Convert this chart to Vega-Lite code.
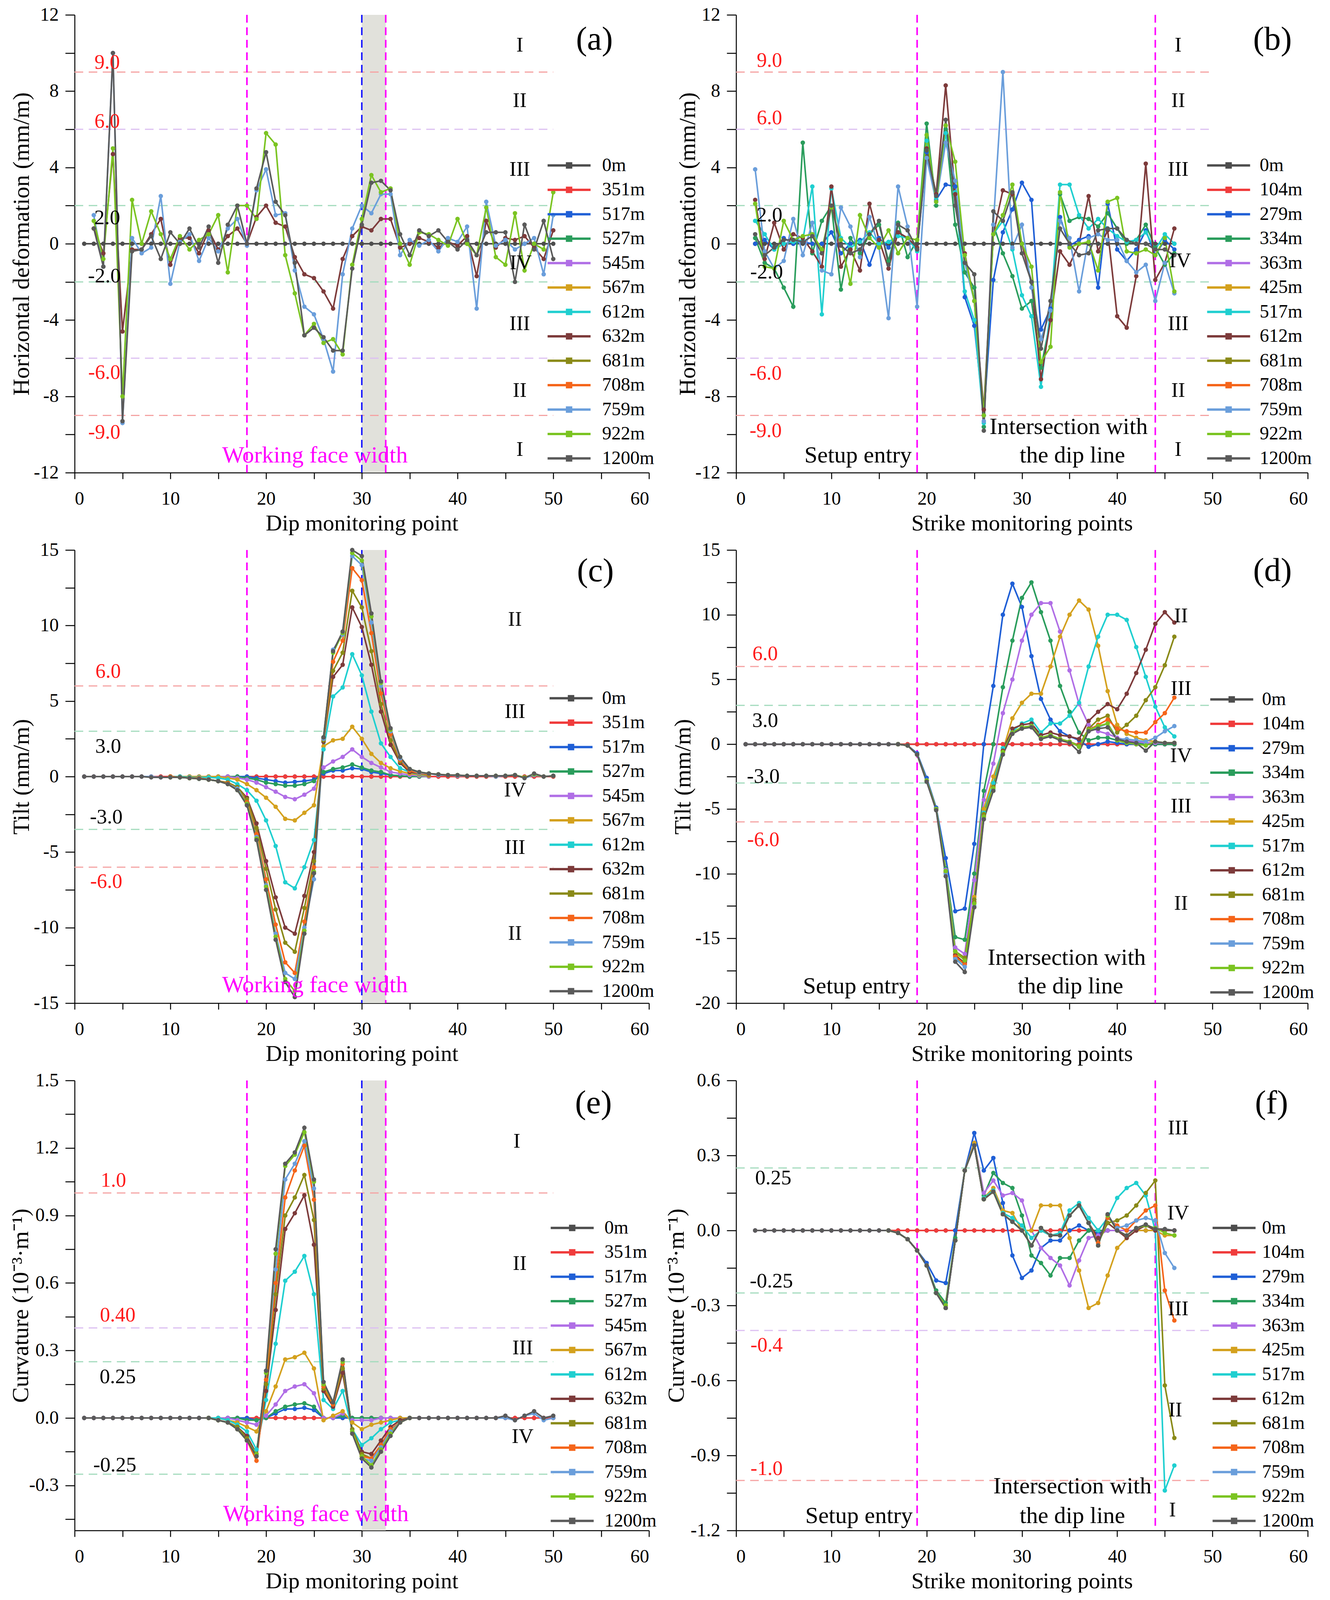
{
"$schema": "https://vega.github.io/schema/vega-lite/v6.json",
"background": "#ffffff",
"padding": {"left": 23, "top": 14, "right": 10, "bottom": 0},
"autosize": {"type": "pad"},
"config": {
 "font": "Liberation Serif",
 "view": {"stroke": null},
 "axis": {"grid": false, "domainColor": "#000000", "domainWidth": 2.5, "tickColor": "#000000", "tickWidth": 2.5, "labelFont": "Liberation Serif", "labelFontSize": 48, "labelColor": "#000000", "titleFont": "Liberation Serif", "titleFontSize": 60, "titleFontWeight": "normal", "titleColor": "#000000"},
 "axisX": {"tickSize": 16, "labelPadding": 27, "titlePadding": 10, "titleFontSize": 58},
 "axisY": {"tickSize": 24, "labelPadding": 17},
 "legend": {"title": null, "orient": "none", "labelFont": "Liberation Serif", "labelFontSize": 48, "labelColor": "#000000", "symbolType": "M-2,-0.11H2V0.11H-2ZM-0.3,-0.3H0.3V0.3H-0.3Z", "symbolSize": 3025, "symbolStrokeWidth": 0, "rowPadding": 10.5, "padding": 0, "labelLimit": 400},
 "point": {"shape": "circle", "filled": true, "size": 130, "opacity": 1},
 "text": {"font": "Liberation Serif"}
},
"datasets": {
 "A": [
  {"x":1,"0m":0},
  {"x":2,"0m":0,"632m":0.8,"759m":1.5,"922m":1.2,"1200m":0.8},
  {"x":3,"0m":0,"632m":-0.5,"759m":-1.2,"922m":-0.8,"1200m":-1.2},
  {"x":4,"0m":0,"632m":4.7,"759m":10,"922m":5,"1200m":10},
  {"x":5,"0m":0,"632m":-4.6,"759m":-9.4,"922m":-8,"1200m":-9.3},
  {"x":6,"0m":0,"632m":-0.3,"759m":0.3,"922m":2.3,"1200m":-0.4},
  {"x":7,"0m":0,"632m":-0.3,"759m":-0.5,"922m":0,"1200m":-0.3},
  {"x":8,"0m":0,"632m":0.5,"759m":-0.2,"922m":1.7,"1200m":0.4},
  {"x":9,"0m":0,"632m":1.3,"759m":2.5,"922m":0.5,"1200m":-0.8},
  {"x":10,"0m":0,"632m":-1.1,"759m":-2.1,"922m":-0.8,"1200m":0.6},
  {"x":11,"0m":0,"632m":0.3,"759m":0.1,"922m":0.4,"1200m":0},
  {"x":12,"0m":0,"632m":0.3,"759m":0.5,"922m":-0.3,"1200m":0.8},
  {"x":13,"0m":0,"632m":-0.5,"759m":-0.9,"922m":0.2,"1200m":-0.2},
  {"x":14,"0m":0,"632m":0.7,"759m":0.3,"922m":0.5,"1200m":0.9},
  {"x":15,"0m":0,"632m":-0.3,"759m":-0.4,"922m":1.5,"1200m":-1},
  {"x":16,"0m":0,"632m":0.4,"759m":0.8,"922m":-1.5,"1200m":1},
  {"x":17,"0m":0,"632m":0.8,"759m":1.3,"922m":2,"1200m":2},
  {"x":18,"0m":0,"632m":0,"759m":-0.1,"922m":2,"1200m":0},
  {"x":19,"0m":0,"632m":1.4,"759m":2.8,"922m":1.3,"1200m":2.9},
  {"x":20,"0m":0,"632m":2,"759m":3.9,"922m":5.8,"1200m":4.8},
  {"x":21,"0m":0,"632m":1.1,"759m":1.5,"922m":5.2,"1200m":2.2},
  {"x":22,"0m":0,"632m":0.9,"759m":1.6,"922m":-0.6,"1200m":1.5},
  {"x":23,"0m":0,"632m":-0.7,"759m":-1.4,"922m":-2.6,"1200m":-1},
  {"x":24,"0m":0,"632m":-1.6,"759m":-3.3,"922m":-4.8,"1200m":-4.8},
  {"x":25,"0m":0,"632m":-1.8,"759m":-3.7,"922m":-4.2,"1200m":-4.4},
  {"x":26,"0m":0,"632m":-2.5,"759m":-5,"922m":-5.2,"1200m":-4.9},
  {"x":27,"0m":0,"632m":-3.4,"759m":-6.7,"922m":-5,"1200m":-5.6},
  {"x":28,"0m":0,"632m":-0.8,"759m":-1.6,"922m":-5.8,"1200m":-5.6},
  {"x":29,"0m":0,"632m":0.4,"759m":0.8,"922m":-1.1,"1200m":-1.3},
  {"x":30,"0m":0,"632m":0.9,"759m":2,"922m":1.3,"1200m":1},
  {"x":31,"0m":0,"632m":0.7,"759m":1.6,"922m":3.6,"1200m":3.2},
  {"x":32,"0m":0,"632m":1.3,"759m":2.6,"922m":2.7,"1200m":3.3},
  {"x":33,"0m":0,"632m":1.3,"759m":2.6,"922m":2.9,"1200m":2.8},
  {"x":34,"0m":0,"632m":-0.2,"759m":-0.6,"922m":0,"1200m":0.5},
  {"x":35,"0m":0,"632m":0,"759m":0.2,"922m":-1.1,"1200m":-0.6},
  {"x":36,"0m":0,"632m":0.3,"759m":-0.1,"922m":0.6,"1200m":0.7},
  {"x":37,"0m":0,"632m":0.1,"759m":0.2,"922m":0.5,"1200m":0.4},
  {"x":38,"0m":0,"632m":-0.2,"759m":-0.4,"922m":0.2,"1200m":0.7},
  {"x":39,"0m":0,"632m":0.1,"759m":0.3,"922m":-0.1,"1200m":0.1},
  {"x":40,"0m":0,"632m":-0.1,"759m":0.1,"922m":1.3,"1200m":-0.3},
  {"x":41,"0m":0,"632m":0.4,"759m":0.9,"922m":0,"1200m":0.2},
  {"x":42,"0m":0,"632m":-1.7,"759m":-3.4,"922m":-0.6,"1200m":-0.6},
  {"x":43,"0m":0,"632m":1.2,"759m":2.2,"922m":1.9,"1200m":0.6},
  {"x":44,"0m":0,"632m":-0.2,"759m":-0.1,"922m":-0.7,"1200m":0.6},
  {"x":45,"0m":0,"632m":0.3,"759m":0.2,"922m":-1.1,"1200m":0.6},
  {"x":46,"0m":0,"632m":0.2,"759m":-0.3,"922m":1.6,"1200m":-2},
  {"x":47,"0m":0,"632m":0.4,"759m":0,"922m":-1.4,"1200m":1},
  {"x":48,"0m":0,"632m":-0.2,"759m":0.3,"922m":0,"1200m":-0.3},
  {"x":49,"0m":0,"632m":-0.8,"759m":-1.6,"922m":-0.3,"1200m":1.2},
  {"x":50,"0m":0,"632m":0.7,"759m":1.5,"922m":2.7,"1200m":-0.8}
 ],
 "B": [
  {"x":2,"0m":0,"279m":0,"334m":0.3,"517m":1.2,"612m":2.3,"759m":3.9,"922m":2.1,"1200m":0.5},
  {"x":3,"0m":0,"279m":0.2,"334m":-1,"517m":0.5,"612m":-0.8,"759m":-0.4,"922m":-1.2,"1200m":-0.6},
  {"x":4,"0m":0,"279m":-0.3,"334m":-1.3,"517m":-0.3,"612m":1.1,"759m":-1.3,"922m":-1.3,"1200m":-0.2},
  {"x":5,"0m":0,"279m":0.3,"334m":-2.3,"517m":0,"612m":-0.3,"759m":-0.9,"922m":1.2,"1200m":0.2},
  {"x":6,"0m":0,"279m":0,"334m":-3.3,"517m":0.1,"612m":0.5,"759m":1.3,"922m":0.2,"1200m":0.2},
  {"x":7,"0m":0,"279m":0.1,"334m":5.3,"517m":0.2,"612m":0.3,"759m":-0.6,"922m":0.4,"1200m":0.1},
  {"x":8,"0m":0,"279m":0,"334m":-0.5,"517m":3,"612m":-0.4,"759m":1.1,"922m":0.5,"1200m":0.4},
  {"x":9,"0m":0,"279m":0,"334m":1.2,"517m":-3.7,"612m":-1.2,"759m":-1.4,"922m":-0.3,"1200m":-0.5},
  {"x":10,"0m":0,"279m":0.6,"334m":2,"517m":2.9,"612m":3,"759m":-1.6,"922m":1.9,"1200m":2},
  {"x":11,"0m":0,"279m":-0.5,"334m":-2.4,"517m":0.3,"612m":-1.2,"759m":1.9,"922m":0.2,"1200m":-0.1},
  {"x":12,"0m":0,"279m":0,"334m":0.3,"517m":-0.2,"612m":-0.3,"759m":0.9,"922m":-2.1,"1200m":-0.5},
  {"x":13,"0m":0,"279m":0.2,"334m":-0.5,"517m":0.1,"612m":-1.4,"759m":-0.7,"922m":1.5,"1200m":-0.3},
  {"x":14,"0m":0,"279m":-1.1,"334m":0.5,"517m":0.6,"612m":2.1,"759m":1.4,"922m":0.3,"1200m":0.5},
  {"x":15,"0m":0,"279m":0.3,"334m":1,"517m":0,"612m":0.2,"759m":-0.2,"922m":-0.2,"1200m":1.2},
  {"x":16,"0m":0,"279m":-0.2,"334m":-0.9,"517m":0.1,"612m":-1.3,"759m":-3.9,"922m":0.7,"1200m":-1.1},
  {"x":17,"0m":0,"279m":0.6,"334m":1.1,"517m":0.4,"612m":0.6,"759m":3,"922m":-0.5,"1200m":1},
  {"x":18,"0m":0,"279m":0.3,"334m":-0.7,"517m":0.3,"612m":0.3,"759m":0.9,"922m":0.3,"1200m":0.7},
  {"x":19,"0m":0,"279m":-0.3,"334m":0.2,"517m":-0.4,"612m":-0.2,"759m":-3.3,"922m":0.2,"1200m":-0.3},
  {"x":20,"0m":0,"279m":4.8,"334m":6.3,"517m":5.4,"612m":5,"759m":4.5,"922m":5.7,"1200m":4.9},
  {"x":21,"0m":0,"279m":2.3,"334m":2,"517m":2.4,"612m":2.6,"759m":2.2,"922m":2.2,"1200m":2.5},
  {"x":22,"0m":0,"279m":3.1,"334m":6,"517m":5.8,"612m":8.3,"759m":5.3,"922m":6.2,"1200m":6.5},
  {"x":23,"0m":0,"279m":3,"334m":1,"517m":2.7,"612m":2.6,"759m":3.3,"922m":4.3,"1200m":2},
  {"x":24,"0m":0,"279m":-2.8,"334m":-1.5,"517m":-2.5,"612m":-0.5,"759m":-1,"922m":-0.6,"1200m":-1},
  {"x":25,"0m":0,"279m":-4.3,"334m":-2.3,"517m":-4,"612m":-3,"759m":-3,"922m":-3,"1200m":-1.6},
  {"x":26,"0m":0,"279m":-9,"334m":-9.6,"517m":-9.4,"612m":-8.7,"759m":-9.3,"922m":-9,"1200m":-9.8},
  {"x":27,"0m":0,"279m":-1.9,"334m":1,"517m":0.5,"612m":0.5,"759m":1,"922m":0.5,"1200m":1.7},
  {"x":28,"0m":0,"279m":0.6,"334m":-0.5,"517m":1.2,"612m":2.8,"759m":9,"922m":1.5,"1200m":1.2},
  {"x":29,"0m":0,"279m":1.8,"334m":-1.7,"517m":-0.3,"612m":2.6,"759m":-0.2,"922m":3.1,"1200m":2.7},
  {"x":30,"0m":0,"279m":3.2,"334m":-3.4,"517m":-2.7,"612m":0,"759m":1,"922m":0,"1200m":-0.5},
  {"x":31,"0m":0,"279m":2.3,"334m":-3,"517m":-3.8,"612m":-2,"759m":-2.3,"922m":-1.2,"1200m":-2},
  {"x":32,"0m":0,"279m":-4.5,"334m":-6.5,"517m":-7.5,"612m":-7.1,"759m":-5,"922m":-6.2,"1200m":-5.5},
  {"x":33,"0m":0,"279m":-3.4,"334m":-4,"517m":-3.5,"612m":-4,"759m":-3.5,"922m":-5.4,"1200m":-3},
  {"x":34,"0m":0,"279m":1.4,"334m":2.6,"517m":3.1,"612m":-0.4,"759m":1.2,"922m":2.7,"1200m":0.8},
  {"x":35,"0m":0,"279m":-0.1,"334m":1.2,"517m":3.1,"612m":-1.1,"759m":0.3,"922m":-0.2,"1200m":0},
  {"x":36,"0m":0,"279m":0.2,"334m":1.4,"517m":1.5,"612m":0,"759m":-2.5,"922m":0,"1200m":-0.6},
  {"x":37,"0m":0,"279m":0.4,"334m":1.3,"517m":0.8,"612m":2.5,"759m":0.3,"922m":0.1,"1200m":-0.5},
  {"x":38,"0m":0,"279m":-2.3,"334m":0.9,"517m":1.3,"612m":-0.4,"759m":0.5,"922m":-1.4,"1200m":0.7},
  {"x":39,"0m":0,"279m":2.1,"334m":1.6,"517m":0.8,"612m":0.7,"759m":0.2,"922m":2.2,"1200m":0.8},
  {"x":40,"0m":0,"279m":-0.3,"334m":0.8,"517m":0.4,"612m":-3.8,"759m":0.2,"922m":2.4,"1200m":0.8},
  {"x":41,"0m":0,"279m":-0.9,"334m":0,"517m":0.1,"612m":-4.4,"759m":-0.9,"922m":-0.4,"1200m":0.2},
  {"x":42,"0m":0,"279m":-0.3,"334m":0.2,"517m":0.2,"612m":-1.7,"759m":-1.5,"922m":-0.5,"1200m":0},
  {"x":43,"0m":0,"279m":0.7,"334m":1,"517m":0.6,"612m":4.2,"759m":-1.1,"922m":-0.3,"1200m":0},
  {"x":44,"0m":0,"279m":-0.6,"334m":-0.2,"517m":-0.3,"612m":-1.9,"759m":-3,"922m":-0.6,"1200m":-0.3},
  {"x":45,"0m":0,"279m":0.2,"334m":-1.1,"517m":0.5,"612m":-1,"759m":-1,"922m":0.3,"1200m":-0.3},
  {"x":46,"0m":0,"279m":-0.3,"334m":-0.5,"517m":0,"612m":0.8,"759m":-2.6,"922m":-2.5,"1200m":-0.6}
 ],
 "C": [
  {"x":1,"0m":0,"351m":0,"759m":0,"1200m":0},
  {"x":2,"0m":0,"351m":0,"759m":0,"1200m":0},
  {"x":3,"0m":0,"351m":0,"759m":0,"1200m":0},
  {"x":4,"0m":0,"351m":0,"759m":0,"1200m":0},
  {"x":5,"0m":0,"351m":0,"759m":0,"1200m":0},
  {"x":6,"0m":0,"351m":0,"759m":0,"1200m":0},
  {"x":7,"0m":0,"351m":0,"759m":0,"1200m":0},
  {"x":8,"0m":0,"351m":0,"759m":0,"1200m":-0.05},
  {"x":9,"0m":0,"351m":0,"759m":-0.05,"1200m":-0.05},
  {"x":10,"0m":0,"351m":0,"517m":0,"527m":0,"545m":0,"567m":0,"612m":0,"632m":0,"681m":0,"708m":0,"759m":-0.05,"922m":-0.05,"1200m":-0.05},
  {"x":11,"0m":0,"351m":0,"517m":0,"527m":0,"545m":0,"567m":0,"612m":0,"632m":-0.05,"681m":-0.05,"708m":-0.05,"759m":-0.05,"922m":-0.05,"1200m":-0.05},
  {"x":12,"0m":0,"351m":0,"517m":0,"527m":0,"545m":0,"567m":0,"612m":-0.05,"632m":-0.1,"681m":-0.1,"708m":-0.1,"759m":-0.1,"922m":-0.1,"1200m":-0.1},
  {"x":13,"0m":0,"351m":0,"517m":0,"527m":0,"545m":0,"567m":0,"612m":-0.05,"632m":-0.1,"681m":-0.1,"708m":-0.1,"759m":-0.15,"922m":-0.15,"1200m":-0.15},
  {"x":14,"0m":0,"351m":0,"517m":0,"527m":0,"545m":0,"567m":0,"612m":-0.05,"632m":-0.2,"681m":-0.2,"708m":-0.2,"759m":-0.2,"922m":-0.2,"1200m":-0.2},
  {"x":15,"0m":0,"351m":0,"517m":0,"527m":0,"545m":0,"567m":0,"612m":-0.1,"632m":-0.3,"681m":-0.3,"708m":-0.3,"759m":-0.3,"922m":-0.3,"1200m":-0.3},
  {"x":16,"0m":0,"351m":0,"517m":0,"527m":0,"545m":0,"567m":-0.1,"612m":-0.2,"632m":-0.4,"681m":-0.4,"708m":-0.45,"759m":-0.5,"922m":-0.5,"1200m":-0.5},
  {"x":17,"0m":0,"351m":0,"517m":0,"527m":0,"545m":-0.1,"567m":-0.2,"612m":-0.5,"632m":-0.7,"681m":-0.7,"708m":-0.8,"759m":-0.8,"922m":-0.9,"1200m":-0.9},
  {"x":18,"0m":0,"351m":0,"517m":0,"527m":-0.1,"545m":-0.2,"567m":-0.5,"612m":-0.9,"632m":-1.4,"681m":-1.5,"708m":-1.7,"759m":-1.8,"922m":-1.8,"1200m":-1.9},
  {"x":19,"0m":0,"351m":0,"517m":-0.1,"527m":-0.2,"545m":-0.4,"567m":-0.9,"612m":-1.6,"632m":-3.1,"681m":-3.4,"708m":-3.8,"759m":-4,"922m":-4.1,"1200m":-4.2},
  {"x":20,"0m":0,"351m":0,"517m":-0.2,"527m":-0.4,"545m":-0.7,"567m":-1.4,"612m":-2.9,"632m":-5.6,"681m":-6.1,"708m":-6.8,"759m":-7.2,"922m":-7.3,"1200m":-7.5},
  {"x":21,"0m":0,"351m":0,"517m":-0.3,"527m":-0.5,"545m":-1,"567m":-2,"612m":-4.6,"632m":-8,"681m":-8.8,"708m":-9.8,"759m":-10.4,"922m":-10.6,"1200m":-10.8},
  {"x":22,"0m":0,"351m":0,"517m":-0.4,"527m":-0.6,"545m":-1.35,"567m":-2.8,"612m":-7,"632m":-10,"681m":-11,"708m":-12.3,"759m":-13,"922m":-13.4,"1200m":-13.6},
  {"x":23,"0m":0,"351m":0,"517m":-0.35,"527m":-0.6,"545m":-1.5,"567m":-2.9,"612m":-7.4,"632m":-10.4,"681m":-11.6,"708m":-13,"759m":-13.4,"922m":-14.2,"1200m":-14.6},
  {"x":24,"0m":0,"351m":0,"517m":-0.3,"527m":-0.5,"545m":-1.2,"567m":-2.4,"612m":-6,"632m":-7.9,"681m":-8.7,"708m":-9.6,"759m":-10,"922m":-10.2,"1200m":-10.4},
  {"x":25,"0m":0,"351m":0,"517m":-0.2,"527m":-0.3,"545m":-0.8,"567m":-1.9,"612m":-4.2,"632m":-5,"681m":-5.6,"708m":-6,"759m":-6.8,"922m":-6.3,"1200m":-6.4},
  {"x":26,"0m":0,"351m":0,"517m":0.2,"527m":0.3,"545m":0.6,"567m":2,"612m":1.8,"632m":2.3,"681m":2.4,"708m":2.5,"759m":2.5,"922m":2.6,"1200m":2.6},
  {"x":27,"0m":0,"351m":0,"517m":0.4,"527m":0.5,"545m":1,"567m":2.4,"612m":5.3,"632m":6.6,"681m":7,"708m":7.6,"759m":8.4,"922m":8.2,"1200m":8.3},
  {"x":28,"0m":0,"351m":0,"517m":0.4,"527m":0.6,"545m":1.3,"567m":2.5,"612m":5.9,"632m":7.4,"681m":8.2,"708m":9,"759m":9.4,"922m":9.5,"1200m":9.6},
  {"x":29,"0m":0,"351m":0,"517m":0.55,"527m":0.8,"545m":1.8,"567m":3.3,"612m":8.1,"632m":11.2,"681m":12.3,"708m":13.8,"759m":14.6,"922m":14.8,"1200m":15},
  {"x":30,"0m":0,"351m":0,"517m":0.5,"527m":0.6,"545m":1.3,"567m":2.5,"612m":6.7,"632m":9.9,"681m":11.2,"708m":13,"759m":14,"922m":14.3,"1200m":14.6},
  {"x":31,"0m":0,"351m":0,"517m":0.3,"527m":0.4,"545m":0.9,"567m":1.5,"612m":4.3,"632m":7.4,"681m":8.3,"708m":9.5,"759m":10.2,"922m":10.6,"1200m":10.8},
  {"x":32,"0m":0,"351m":0,"517m":0.2,"527m":0.3,"545m":0.6,"567m":0.9,"612m":2.2,"632m":4.3,"681m":4.8,"708m":5.5,"759m":6,"922m":6.2,"1200m":6.3},
  {"x":33,"0m":0,"351m":0,"517m":0.1,"527m":0.1,"545m":0.3,"567m":0.55,"612m":1.3,"632m":2.1,"681m":2.4,"708m":2.8,"759m":3,"922m":3.1,"1200m":3.2},
  {"x":34,"0m":0,"351m":0,"517m":0.05,"527m":0.05,"545m":0.2,"567m":0.35,"612m":0.55,"632m":0.9,"681m":1,"708m":1.1,"759m":1.2,"922m":1.3,"1200m":1.3},
  {"x":35,"0m":0,"351m":0,"517m":0,"527m":0,"545m":0.1,"567m":0.2,"612m":0.3,"632m":0.3,"681m":0.4,"708m":0.4,"759m":0.5,"922m":0.5,"1200m":0.5},
  {"x":36,"0m":0,"351m":0,"517m":0,"527m":0,"545m":0.05,"567m":0.1,"612m":0.15,"632m":0.2,"681m":0.2,"708m":0.2,"759m":0.25,"922m":0.3,"1200m":0.3},
  {"x":37,"0m":0,"351m":0,"517m":0,"527m":0,"545m":0,"567m":0.05,"612m":0.1,"632m":0.1,"681m":0.1,"708m":0.15,"759m":0.2,"922m":0.2,"1200m":0.2},
  {"x":38,"0m":0,"351m":0,"759m":0.1,"922m":0.15,"1200m":0.15},
  {"x":39,"0m":0,"351m":0,"759m":0.1,"922m":0.1,"1200m":0.1},
  {"x":40,"0m":0,"351m":0,"759m":0.05,"922m":0.1,"1200m":0.1},
  {"x":41,"0m":0,"351m":0,"759m":0.05,"922m":0.05,"1200m":0.05},
  {"x":42,"0m":0,"351m":0,"759m":0.05,"922m":0.05,"1200m":0.05},
  {"x":43,"0m":0,"351m":0,"759m":0.05,"922m":0.05,"1200m":0.05},
  {"x":44,"0m":0,"351m":0,"759m":0,"922m":0.05,"1200m":0.05},
  {"x":45,"0m":0,"351m":0,"759m":0.05,"922m":0.05,"1200m":0.05},
  {"x":46,"0m":0,"351m":0,"759m":0.1,"922m":0.1,"1200m":0.1},
  {"x":47,"0m":0,"351m":0,"759m":-0.1,"922m":-0.05,"1200m":-0.1},
  {"x":48,"0m":0,"351m":0,"759m":0.1,"922m":0.15,"1200m":0.2},
  {"x":49,"0m":0,"351m":0,"759m":0,"922m":0,"1200m":0},
  {"x":50,"0m":0,"351m":0,"759m":0.05,"922m":0.05,"1200m":0.05}
 ],
 "D": [
  {"x":1,"0m":0,"104m":0,"759m":0,"1200m":0},
  {"x":2,"0m":0,"104m":0,"759m":0,"1200m":0},
  {"x":3,"0m":0,"104m":0,"759m":0,"1200m":0},
  {"x":4,"0m":0,"104m":0,"759m":0,"1200m":0},
  {"x":5,"0m":0,"104m":0,"759m":0,"1200m":0},
  {"x":6,"0m":0,"104m":0,"759m":0,"1200m":0},
  {"x":7,"0m":0,"104m":0,"759m":0,"1200m":0},
  {"x":8,"0m":0,"104m":0,"759m":0,"1200m":0},
  {"x":9,"0m":0,"104m":0,"759m":0,"1200m":0},
  {"x":10,"0m":0,"104m":0,"759m":0,"1200m":0},
  {"x":11,"0m":0,"104m":0,"759m":0,"1200m":0},
  {"x":12,"0m":0,"104m":0,"759m":0,"1200m":0},
  {"x":13,"0m":0,"104m":0,"759m":0,"1200m":0},
  {"x":14,"0m":0,"104m":0,"759m":0,"1200m":0},
  {"x":15,"0m":0,"104m":0,"759m":0,"1200m":0},
  {"x":16,"0m":0,"104m":0,"759m":0,"1200m":0},
  {"x":17,"0m":0,"104m":0,"279m":0,"334m":0,"363m":0,"425m":0,"517m":0,"612m":0,"681m":0,"708m":0,"759m":0,"922m":0,"1200m":0},
  {"x":18,"0m":0,"104m":0,"279m":-0.1,"334m":-0.1,"363m":-0.1,"425m":-0.1,"517m":-0.1,"612m":-0.1,"681m":-0.1,"708m":-0.1,"759m":-0.1,"922m":-0.1,"1200m":-0.1},
  {"x":19,"0m":0,"104m":0,"279m":-0.7,"334m":-0.8,"363m":-0.8,"425m":-0.8,"517m":-0.8,"612m":-0.8,"681m":-0.8,"708m":-0.8,"759m":-0.8,"922m":-0.8,"1200m":-0.8},
  {"x":20,"0m":0,"104m":0,"279m":-2.6,"334m":-2.8,"363m":-2.8,"425m":-2.8,"517m":-2.8,"612m":-2.8,"681m":-2.8,"708m":-2.8,"759m":-2.8,"922m":-2.8,"1200m":-2.9},
  {"x":21,"0m":0,"104m":0,"279m":-4.9,"334m":-5,"363m":-5,"425m":-5,"517m":-5,"612m":-5,"681m":-5,"708m":-5,"759m":-5,"922m":-5,"1200m":-5.1},
  {"x":22,"0m":0,"104m":0,"279m":-8.8,"334m":-9.6,"363m":-9.7,"425m":-9.8,"517m":-9.8,"612m":-9.9,"681m":-9.8,"708m":-9.9,"759m":-10,"922m":-9.8,"1200m":-10.2},
  {"x":23,"0m":0,"104m":0,"279m":-12.9,"334m":-14.9,"363m":-15.7,"425m":-16.2,"517m":-16.5,"612m":-16.3,"681m":-16,"708m":-16.4,"759m":-16.6,"922m":-16,"1200m":-16.8},
  {"x":24,"0m":0,"104m":0,"279m":-12.7,"334m":-15.1,"363m":-16.2,"425m":-16.6,"517m":-17,"612m":-16.9,"681m":-16.5,"708m":-17,"759m":-17.2,"922m":-16.7,"1200m":-17.6},
  {"x":25,"0m":0,"104m":0,"279m":-7.7,"334m":-10,"363m":-10.5,"425m":-11.8,"517m":-12,"612m":-12.2,"681m":-12,"708m":-12.3,"759m":-12.5,"922m":-12.3,"1200m":-12.6},
  {"x":26,"0m":0,"104m":0,"279m":0,"334m":-3.6,"363m":-4.3,"425m":-5,"517m":-5.3,"612m":-5.5,"681m":-5.4,"708m":-5.6,"759m":-5.7,"922m":-5.6,"1200m":-5.8},
  {"x":27,"0m":0,"104m":0,"279m":4.5,"334m":0,"363m":-1.5,"425m":-2.5,"517m":-3,"612m":-3.3,"681m":-3.3,"708m":-3.4,"759m":-3.5,"922m":-3.4,"1200m":-3.6},
  {"x":28,"0m":0,"104m":0,"279m":10,"334m":4.4,"363m":2.4,"425m":-0.5,"517m":-0.3,"612m":-0.5,"681m":-0.6,"708m":-0.6,"759m":-0.7,"922m":-0.6,"1200m":-0.8},
  {"x":29,"0m":0,"104m":0,"279m":12.4,"334m":8,"363m":5,"425m":2,"517m":1,"612m":1.2,"681m":0.9,"708m":0.9,"759m":0.9,"922m":0.9,"1200m":0.8},
  {"x":30,"0m":0,"104m":0,"279m":10.6,"334m":11.3,"363m":8,"425m":3.2,"517m":1.6,"612m":1.5,"681m":1.3,"708m":1.3,"759m":1.3,"922m":1.3,"1200m":1.2},
  {"x":31,"0m":0,"104m":0,"279m":6.8,"334m":12.5,"363m":10,"425m":3.9,"517m":1.9,"612m":1.6,"681m":1.4,"708m":1.4,"759m":1.4,"922m":1.4,"1200m":1.3},
  {"x":32,"0m":0,"104m":0,"279m":3.5,"334m":10.2,"363m":10.9,"425m":3.9,"517m":0.9,"612m":0.7,"681m":0.5,"708m":0.5,"759m":0.5,"922m":0.5,"1200m":0.4},
  {"x":33,"0m":0,"104m":0,"279m":1.9,"334m":8,"363m":10.9,"425m":6,"517m":1.6,"612m":0.9,"681m":0.7,"708m":0.7,"759m":0.7,"922m":0.7,"1200m":0.6},
  {"x":34,"0m":0,"104m":0,"279m":1,"334m":4.5,"363m":8.7,"425m":8.3,"517m":1.6,"612m":0.7,"681m":0.4,"708m":0.4,"759m":0.4,"922m":0.4,"1200m":0.3},
  {"x":35,"0m":0,"104m":0,"279m":0.6,"334m":2.5,"363m":5.7,"425m":10,"517m":2.2,"612m":0.6,"681m":0.2,"708m":0.2,"759m":0.2,"922m":0.2,"1200m":0.1},
  {"x":36,"0m":0,"104m":0,"279m":0.3,"334m":0.9,"363m":3.1,"425m":11.1,"517m":3.2,"612m":0.4,"681m":-0.1,"708m":-0.2,"759m":-0.2,"922m":-0.2,"1200m":-0.6},
  {"x":37,"0m":0,"104m":0,"279m":-0.2,"334m":0.3,"363m":1.5,"425m":10.4,"517m":6,"612m":1.8,"681m":1.2,"708m":1.1,"759m":1,"922m":1.1,"1200m":1},
  {"x":38,"0m":0,"104m":0,"279m":0,"334m":0.5,"363m":1,"425m":7.6,"517m":8.3,"612m":2.5,"681m":1.9,"708m":1.5,"759m":1.3,"922m":1.4,"1200m":1.2},
  {"x":39,"0m":0,"104m":0,"279m":0.2,"334m":0.5,"363m":0.8,"425m":4.1,"517m":10,"612m":3.1,"681m":2.2,"708m":1.9,"759m":1.6,"922m":1.6,"1200m":1.3},
  {"x":40,"0m":0,"104m":0,"279m":0.1,"334m":0.3,"363m":0.5,"425m":1.5,"517m":10,"612m":2.7,"681m":0.9,"708m":1.2,"759m":0.4,"922m":0.3,"1200m":0.4},
  {"x":41,"0m":0,"104m":0,"279m":0,"334m":0.1,"363m":0.3,"425m":0.8,"517m":9.6,"612m":3.9,"681m":1.5,"708m":1,"759m":0.4,"922m":0.1,"1200m":0.2},
  {"x":42,"0m":0,"104m":0,"279m":0,"334m":0.1,"363m":0.2,"425m":0.5,"517m":7.5,"612m":5.5,"681m":2.2,"708m":0.9,"759m":0.3,"922m":0,"1200m":0.1},
  {"x":43,"0m":0,"104m":0,"279m":0,"334m":0,"363m":0.1,"425m":0.3,"517m":5.2,"612m":7.3,"681m":3.4,"708m":0.9,"759m":0.2,"922m":-0.1,"1200m":-0.5},
  {"x":44,"0m":0,"104m":0,"279m":0,"334m":0,"363m":0.1,"425m":0.2,"517m":2.9,"612m":9.3,"681m":4.4,"708m":1.7,"759m":0.5,"922m":0.2,"1200m":0.2},
  {"x":45,"0m":0,"104m":0,"279m":0,"334m":0,"363m":0.1,"425m":0.1,"517m":1.3,"612m":10.2,"681m":6.1,"708m":2.4,"759m":1,"922m":0.1,"1200m":0.1},
  {"x":46,"0m":0,"104m":0,"279m":0,"334m":0,"363m":0.1,"425m":0.1,"517m":0.6,"612m":9.4,"681m":8.3,"708m":3.6,"759m":1.4,"922m":0.1,"1200m":0.1}
 ],
 "E": [
  {"x":1,"0m":0,"351m":0,"759m":0,"1200m":0},
  {"x":2,"0m":0,"351m":0,"759m":0,"1200m":0},
  {"x":3,"0m":0,"351m":0,"759m":0,"1200m":0},
  {"x":4,"0m":0,"351m":0,"759m":0,"1200m":0},
  {"x":5,"0m":0,"351m":0,"759m":0,"1200m":0},
  {"x":6,"0m":0,"351m":0,"759m":0,"1200m":0},
  {"x":7,"0m":0,"351m":0,"759m":0,"1200m":0},
  {"x":8,"0m":0,"351m":0,"759m":0,"1200m":0},
  {"x":9,"0m":0,"351m":0,"759m":0,"1200m":0},
  {"x":10,"0m":0,"351m":0,"759m":0,"1200m":0},
  {"x":11,"0m":0,"351m":0,"759m":0,"1200m":0},
  {"x":12,"0m":0,"351m":0,"759m":0,"1200m":0},
  {"x":13,"0m":0,"351m":0,"759m":0,"1200m":0},
  {"x":14,"0m":0,"351m":0,"517m":0,"527m":0,"545m":0,"567m":0,"612m":0,"632m":0,"681m":0,"708m":0,"759m":0,"922m":0,"1200m":0},
  {"x":15,"0m":0,"351m":0,"517m":0,"527m":0,"545m":0,"567m":0,"612m":0,"632m":-0.01,"681m":-0.01,"708m":-0.01,"759m":-0.01,"922m":-0.01,"1200m":-0.01},
  {"x":16,"0m":0,"351m":0,"517m":0,"527m":0,"545m":0,"567m":-0.01,"612m":-0.01,"632m":-0.02,"681m":-0.02,"708m":-0.02,"759m":-0.02,"922m":-0.02,"1200m":-0.02},
  {"x":17,"0m":0,"351m":0,"517m":0,"527m":0,"545m":-0.01,"567m":-0.02,"612m":-0.03,"632m":-0.04,"681m":-0.04,"708m":-0.05,"759m":-0.05,"922m":-0.05,"1200m":-0.05},
  {"x":18,"0m":0,"351m":0,"517m":0,"527m":-0.01,"545m":-0.02,"567m":-0.04,"612m":-0.06,"632m":-0.08,"681m":-0.09,"708m":-0.1,"759m":-0.1,"922m":-0.1,"1200m":-0.1},
  {"x":19,"0m":0,"351m":0,"517m":-0.01,"527m":-0.01,"545m":-0.03,"567m":-0.06,"612m":-0.14,"632m":-0.16,"681m":-0.17,"708m":-0.19,"759m":-0.17,"922m":-0.16,"1200m":-0.17},
  {"x":20,"0m":0,"351m":0,"517m":0,"527m":0,"545m":0.01,"567m":0.03,"612m":0.08,"632m":0.12,"681m":0.15,"708m":0.17,"759m":0.21,"922m":0.2,"1200m":0.21},
  {"x":21,"0m":0,"351m":0,"517m":0.02,"527m":0.03,"545m":0.06,"567m":0.14,"612m":0.33,"632m":0.48,"681m":0.55,"708m":0.6,"759m":0.66,"922m":0.73,"1200m":0.75},
  {"x":22,"0m":0,"351m":0,"517m":0.04,"527m":0.05,"545m":0.12,"567m":0.26,"612m":0.61,"632m":0.84,"681m":0.9,"708m":0.98,"759m":1.06,"922m":1.12,"1200m":1.13},
  {"x":23,"0m":0,"351m":0,"517m":0.04,"527m":0.06,"545m":0.14,"567m":0.27,"612m":0.65,"632m":0.91,"681m":0.98,"708m":1.1,"759m":1.13,"922m":1.17,"1200m":1.18},
  {"x":24,"0m":0,"351m":0,"517m":0.045,"527m":0.065,"545m":0.15,"567m":0.29,"612m":0.72,"632m":0.99,"681m":1.08,"708m":1.21,"759m":1.23,"922m":1.27,"1200m":1.29},
  {"x":25,"0m":0,"351m":0,"517m":0.035,"527m":0.05,"545m":0.11,"567m":0.22,"612m":0.55,"632m":0.77,"681m":0.88,"708m":0.97,"759m":1.02,"922m":1.05,"1200m":1.06},
  {"x":26,"0m":0,"351m":0,"517m":0,"527m":0,"545m":0,"567m":-0.01,"612m":0.08,"632m":0.12,"681m":0.13,"708m":0.14,"759m":0.16,"922m":0.15,"1200m":0.16},
  {"x":27,"0m":0,"351m":0,"517m":0,"527m":0,"545m":0,"567m":0.01,"612m":0.04,"632m":0.05,"681m":0.06,"708m":0.06,"759m":0.07,"922m":0.07,"1200m":0.07},
  {"x":28,"0m":0,"351m":0,"517m":0,"527m":0.01,"545m":0.02,"567m":0.03,"612m":0.12,"632m":0.2,"681m":0.22,"708m":0.24,"759m":0.25,"922m":0.25,"1200m":0.26},
  {"x":29,"0m":0,"351m":0,"517m":0,"527m":0,"545m":-0.01,"567m":-0.02,"612m":-0.05,"632m":-0.05,"681m":-0.05,"708m":-0.06,"759m":-0.06,"922m":-0.06,"1200m":-0.07},
  {"x":30,"0m":0,"351m":0,"517m":0,"527m":0,"545m":-0.01,"567m":-0.05,"612m":-0.12,"632m":-0.15,"681m":-0.16,"708m":-0.17,"759m":-0.18,"922m":-0.17,"1200m":-0.18},
  {"x":31,"0m":0,"351m":0,"517m":0,"527m":0,"545m":-0.01,"567m":-0.03,"612m":-0.09,"632m":-0.16,"681m":-0.18,"708m":-0.18,"759m":-0.19,"922m":-0.21,"1200m":-0.22},
  {"x":32,"0m":0,"351m":0,"517m":0,"527m":0,"545m":0,"567m":-0.02,"612m":-0.05,"632m":-0.1,"681m":-0.12,"708m":-0.12,"759m":-0.13,"922m":-0.14,"1200m":-0.15},
  {"x":33,"0m":0,"351m":0,"517m":0,"527m":0,"545m":0,"567m":-0.01,"612m":-0.02,"632m":-0.04,"681m":-0.05,"708m":-0.05,"759m":-0.06,"922m":-0.07,"1200m":-0.08},
  {"x":34,"0m":0,"351m":0,"517m":0,"527m":0,"545m":0,"567m":0,"612m":-0.01,"632m":-0.01,"681m":-0.02,"708m":-0.02,"759m":-0.02,"922m":-0.02,"1200m":-0.02},
  {"x":35,"0m":0,"351m":0,"517m":0,"527m":0,"545m":0,"567m":0,"612m":0,"632m":0,"681m":0,"708m":0,"759m":0,"922m":0,"1200m":0},
  {"x":36,"0m":0,"351m":0,"759m":0,"1200m":0},
  {"x":37,"0m":0,"351m":0,"759m":0,"1200m":0},
  {"x":38,"0m":0,"351m":0,"759m":0,"1200m":0},
  {"x":39,"0m":0,"351m":0,"759m":0,"1200m":0},
  {"x":40,"0m":0,"351m":0,"759m":0,"1200m":0},
  {"x":41,"0m":0,"351m":0,"759m":0,"1200m":0},
  {"x":42,"0m":0,"351m":0,"759m":0,"1200m":0},
  {"x":43,"0m":0,"351m":0,"759m":0,"1200m":0},
  {"x":44,"0m":0,"351m":0,"759m":0,"1200m":0},
  {"x":45,"0m":0,"351m":0,"759m":0,"1200m":0.01},
  {"x":46,"0m":0,"351m":0,"759m":-0.01,"1200m":-0.01},
  {"x":47,"0m":0,"351m":0,"759m":0.01,"1200m":0.01},
  {"x":48,"0m":0,"351m":0,"759m":0.02,"1200m":0.03},
  {"x":49,"0m":0,"351m":0,"759m":-0.01,"1200m":0},
  {"x":50,"0m":0,"351m":0,"759m":0,"1200m":0.01}
 ],
 "F": [
  {"x":2,"0m":0,"104m":0,"759m":0,"1200m":0},
  {"x":3,"0m":0,"104m":0,"759m":0,"1200m":0},
  {"x":4,"0m":0,"104m":0,"759m":0,"1200m":0},
  {"x":5,"0m":0,"104m":0,"759m":0,"1200m":0},
  {"x":6,"0m":0,"104m":0,"759m":0,"1200m":0},
  {"x":7,"0m":0,"104m":0,"759m":0,"1200m":0},
  {"x":8,"0m":0,"104m":0,"759m":0,"1200m":0},
  {"x":9,"0m":0,"104m":0,"759m":0,"1200m":0},
  {"x":10,"0m":0,"104m":0,"759m":0,"1200m":0},
  {"x":11,"0m":0,"104m":0,"759m":0,"1200m":0},
  {"x":12,"0m":0,"104m":0,"759m":0,"1200m":0},
  {"x":13,"0m":0,"104m":0,"759m":0,"1200m":0},
  {"x":14,"0m":0,"104m":0,"759m":0,"1200m":0},
  {"x":15,"0m":0,"104m":0,"759m":0,"1200m":0},
  {"x":16,"0m":0,"104m":0,"279m":0,"334m":0,"363m":0,"425m":0,"517m":0,"612m":0,"681m":0,"708m":0,"759m":0,"922m":0,"1200m":0},
  {"x":17,"0m":0,"104m":0,"279m":-0.01,"334m":-0.01,"363m":-0.01,"425m":-0.01,"517m":-0.01,"612m":-0.01,"681m":-0.01,"708m":-0.01,"759m":-0.01,"922m":-0.01,"1200m":-0.01},
  {"x":18,"0m":0,"104m":0,"279m":-0.035,"334m":-0.035,"363m":-0.035,"425m":-0.035,"517m":-0.035,"612m":-0.035,"681m":-0.035,"708m":-0.035,"759m":-0.035,"922m":-0.035,"1200m":-0.035},
  {"x":19,"0m":0,"104m":0,"279m":-0.08,"334m":-0.08,"363m":-0.08,"425m":-0.08,"517m":-0.08,"612m":-0.08,"681m":-0.08,"708m":-0.08,"759m":-0.08,"922m":-0.08,"1200m":-0.08},
  {"x":20,"0m":0,"104m":0,"279m":-0.13,"334m":-0.14,"363m":-0.14,"425m":-0.14,"517m":-0.14,"612m":-0.14,"681m":-0.14,"708m":-0.14,"759m":-0.14,"922m":-0.14,"1200m":-0.14},
  {"x":21,"0m":0,"104m":0,"279m":-0.2,"334m":-0.24,"363m":-0.25,"425m":-0.25,"517m":-0.25,"612m":-0.25,"681m":-0.25,"708m":-0.25,"759m":-0.25,"922m":-0.25,"1200m":-0.25},
  {"x":22,"0m":0,"104m":0,"279m":-0.21,"334m":-0.29,"363m":-0.3,"425m":-0.3,"517m":-0.31,"612m":-0.31,"681m":-0.31,"708m":-0.31,"759m":-0.31,"922m":-0.3,"1200m":-0.31},
  {"x":23,"0m":0,"104m":0,"279m":0,"334m":-0.03,"363m":-0.04,"425m":-0.04,"517m":-0.04,"612m":-0.04,"681m":-0.04,"708m":-0.04,"759m":-0.04,"922m":-0.04,"1200m":-0.04},
  {"x":24,"0m":0,"104m":0,"279m":0.24,"334m":0.24,"363m":0.24,"425m":0.24,"517m":0.24,"612m":0.24,"681m":0.24,"708m":0.24,"759m":0.24,"922m":0.24,"1200m":0.24},
  {"x":25,"0m":0,"104m":0,"279m":0.39,"334m":0.35,"363m":0.35,"425m":0.35,"517m":0.34,"612m":0.34,"681m":0.34,"708m":0.34,"759m":0.34,"922m":0.34,"1200m":0.34},
  {"x":26,"0m":0,"104m":0,"279m":0.24,"334m":0.14,"363m":0.15,"425m":0.13,"517m":0.13,"612m":0.125,"681m":0.125,"708m":0.125,"759m":0.125,"922m":0.125,"1200m":0.125},
  {"x":27,"0m":0,"104m":0,"279m":0.29,"334m":0.23,"363m":0.2,"425m":0.17,"517m":0.16,"612m":0.155,"681m":0.155,"708m":0.155,"759m":0.155,"922m":0.155,"1200m":0.155},
  {"x":28,"0m":0,"104m":0,"279m":0.11,"334m":0.19,"363m":0.14,"425m":0.08,"517m":0.07,"612m":0.065,"681m":0.065,"708m":0.065,"759m":0.065,"922m":0.065,"1200m":0.065},
  {"x":29,"0m":0,"104m":0,"279m":-0.1,"334m":0.17,"363m":0.15,"425m":0.07,"517m":0.05,"612m":0.035,"681m":0.035,"708m":0.035,"759m":0.035,"922m":0.035,"1200m":0.035},
  {"x":30,"0m":0,"104m":0,"279m":-0.19,"334m":0.06,"363m":0.12,"425m":0,"517m":0.02,"612m":0,"681m":0,"708m":0,"759m":0,"922m":0,"1200m":0},
  {"x":31,"0m":0,"104m":0,"279m":-0.16,"334m":-0.1,"363m":0,"425m":0,"517m":-0.03,"612m":-0.06,"681m":-0.06,"708m":-0.06,"759m":-0.06,"922m":-0.06,"1200m":-0.06},
  {"x":32,"0m":0,"104m":0,"279m":-0.07,"334m":-0.13,"363m":-0.07,"425m":0.1,"517m":0,"612m":0.01,"681m":0.01,"708m":0.01,"759m":0.01,"922m":0.01,"1200m":0.01},
  {"x":33,"0m":0,"104m":0,"279m":-0.04,"334m":-0.18,"363m":-0.11,"425m":0.1,"517m":-0.02,"612m":-0.02,"681m":-0.02,"708m":-0.02,"759m":-0.02,"922m":-0.02,"1200m":-0.02},
  {"x":34,"0m":0,"104m":0,"279m":-0.04,"334m":-0.11,"363m":-0.14,"425m":0.1,"517m":-0.01,"612m":-0.02,"681m":-0.02,"708m":-0.02,"759m":-0.02,"922m":-0.02,"1200m":-0.02},
  {"x":35,"0m":0,"104m":0,"279m":0,"334m":-0.11,"363m":-0.22,"425m":-0.03,"517m":0.08,"612m":0.06,"681m":0.06,"708m":0.06,"759m":0.06,"922m":0.06,"1200m":0.06},
  {"x":36,"0m":0,"104m":0,"279m":0.02,"334m":-0.04,"363m":-0.12,"425m":-0.16,"517m":0.11,"612m":0.1,"681m":0.1,"708m":0.1,"759m":0.1,"922m":0.1,"1200m":0.1},
  {"x":37,"0m":0,"104m":0,"279m":0,"334m":0,"363m":-0.03,"425m":-0.31,"517m":0.05,"612m":0.03,"681m":0.03,"708m":0.03,"759m":0.03,"922m":0.03,"1200m":0.03},
  {"x":38,"0m":0,"104m":0,"279m":-0.01,"334m":0,"363m":-0.02,"425m":-0.29,"517m":0,"612m":-0.03,"681m":-0.05,"708m":-0.05,"759m":-0.06,"922m":-0.06,"1200m":-0.06},
  {"x":39,"0m":0,"104m":0,"279m":0,"334m":0,"363m":0,"425m":-0.18,"517m":0.05,"612m":0.03,"681m":0.03,"708m":0.05,"759m":0.06,"922m":0.06,"1200m":0.065},
  {"x":40,"0m":0,"104m":0,"279m":0,"334m":0,"363m":0,"425m":-0.07,"517m":0.13,"612m":0,"681m":0.04,"708m":0.02,"759m":0.01,"922m":0,"1200m":0},
  {"x":41,"0m":0,"104m":0,"279m":0,"334m":0,"363m":0,"425m":-0.03,"517m":0.17,"612m":-0.03,"681m":0.06,"708m":0,"759m":0.02,"922m":-0.02,"1200m":-0.02},
  {"x":42,"0m":0,"104m":0,"279m":0,"334m":0,"363m":0,"425m":0,"517m":0.19,"612m":0,"681m":0.1,"708m":0.04,"759m":0.04,"922m":0.01,"1200m":0.01},
  {"x":43,"0m":0,"104m":0,"279m":0,"334m":0,"363m":0,"425m":0,"517m":0.14,"612m":0.02,"681m":0.15,"708m":0.08,"759m":0.05,"922m":0.02,"1200m":0.024},
  {"x":44,"0m":0,"104m":0,"279m":0,"334m":0,"363m":0,"425m":0,"517m":0,"612m":0,"681m":0.2,"708m":0.1,"759m":0.04,"922m":0.01,"1200m":0.006},
  {"x":45,"0m":0,"104m":0,"279m":0,"334m":0,"363m":0,"425m":-0.02,"517m":-1.04,"612m":0,"681m":-0.62,"708m":-0.24,"759m":-0.09,"922m":-0.01,"1200m":0.006},
  {"x":46,"0m":0,"104m":0,"279m":0,"334m":0,"363m":0,"425m":-0.02,"517m":-0.94,"612m":0,"681m":-0.83,"708m":-0.36,"759m":-0.15,"922m":-0.02,"1200m":0}
 ]
},
"columns": 2,
"align": "each",
"bounds": "flush",
"spacing": {"row": 198, "column": 223},
"resolve": {"scale": {"x": "independent", "y": "independent", "color": "independent"}, "axis": {"x": "independent", "y": "independent"}, "legend": {"color": "independent"}},
"concat": [
  {"width": 1470, "height": 1172, "layer": [
   {"data": {"values": [{}]}, "mark": {"type": "rect", "color": "#e1e1db"}, "encoding": {"x": {"datum": 30}, "x2": {"datum": 32.5}}},
   {"data": {"values": [{"y": 9}, {"y": -9}]}, "mark": {"type": "rule", "color": "#f5a3a3", "strokeWidth": 3, "strokeDash": [22, 14]}, "encoding": {"x": {"datum": 0}, "x2": {"datum": 50}, "y": {"field": "y", "type": "quantitative"}}},
   {"data": {"values": [{"y": 6}, {"y": -6}]}, "mark": {"type": "rule", "color": "#dcbff2", "strokeWidth": 3, "strokeDash": [22, 14]}, "encoding": {"x": {"datum": 0}, "x2": {"datum": 50}, "y": {"field": "y", "type": "quantitative"}}},
   {"data": {"values": [{"y": 2}, {"y": -2}]}, "mark": {"type": "rule", "color": "#a3dbbd", "strokeWidth": 3, "strokeDash": [22, 14]}, "encoding": {"x": {"datum": 0}, "x2": {"datum": 50}, "y": {"field": "y", "type": "quantitative"}}},
   {"data": {"values": [{"x": 18}, {"x": 32.5}]}, "mark": {"type": "rule", "color": "#ff00ff", "strokeWidth": 4, "strokeDash": [20, 12]}, "encoding": {"x": {"field": "x", "type": "quantitative"}}},
   {"data": {"values": [{"x": 30}]}, "mark": {"type": "rule", "color": "#1e1eff", "strokeWidth": 4, "strokeDash": [20, 12]}, "encoding": {"x": {"field": "x", "type": "quantitative"}}},
   {"data": {"name": "A"}, "transform": [{"fold": ["0m", "632m", "759m", "922m", "1200m"], "as": ["s", "y"]}],
    "encoding": {
     "x": {"field": "x", "type": "quantitative", "scale": {"domain": [0, 60], "nice": false}, "axis": {"title": "Dip monitoring point", "values": [0,5,10,15,20,25,30,35,40,45,50,55,60], "labelExpr": "datum.value % 10 === 0 ? datum.label : ''"}},
     "y": {"field": "y", "type": "quantitative", "scale": {"domain": [-12, 12], "nice": false}, "axis": {"title": "Horizontal deformation (mm/m)", "titlePadding": 0, "values": [-12,-10,-8,-6,-4,-2,0,2,4,6,8,10,12], "labelExpr": "datum.value % 4 === 0 ? toString(datum.value) : ''"}},
     "color": {"field": "s", "type": "nominal", "scale": {"domain": ["0m","351m","517m","527m","545m","567m","612m","632m","681m","708m","759m","922m","1200m"], "range": ["#4d4d4d","#f03c3c","#1f5fd6","#2a9d5c","#b06ee6","#d4a11e","#1fcfd0","#7d3b3b","#8a8a18","#f5651a","#6a9edb","#7bc422","#5a5a5a"]}, "legend": {"legendX": 1238, "legendY": 358, "labelOffset": 57}}
    },
    "layer": [
     {"mark": {"type": "line", "strokeWidth": 4}},
     {"mark": {"type": "point"}}
    ]},
   {"data": {"values": [{"t": "9.0", "x": 3.4, "y": 9.5}, {"t": "6.0", "x": 3.4, "y": 6.4}, {"t": "-6.0", "x": 3.1, "y": -6.75}, {"t": "-9.0", "x": 3.1, "y": -9.9}]}, "mark": {"type": "text", "fontSize": 52, "color": "#ff1a1a"}, "encoding": {"x": {"field": "x", "type": "quantitative"}, "y": {"field": "y", "type": "quantitative"}, "text": {"field": "t"}}},
   {"data": {"values": [{"t": "2.0", "x": 3.4, "y": 1.35}, {"t": "-2.0", "x": 3.1, "y": -1.7}, {"t": "I", "x": 46.5, "y": 10.4}, {"t": "II", "x": 46.5, "y": 7.5}, {"t": "III", "x": 46.5, "y": 3.9}, {"t": "IV", "x": 46.6, "y": -1.0}, {"t": "III", "x": 46.5, "y": -4.2}, {"t": "II", "x": 46.5, "y": -7.7}, {"t": "I", "x": 46.5, "y": -10.8}]}, "mark": {"type": "text", "fontSize": 53, "color": "#000000"}, "encoding": {"x": {"field": "x", "type": "quantitative"}, "y": {"field": "y", "type": "quantitative"}, "text": {"field": "t"}}},
   {"data": {"values": [{"t": "Working face width", "x": 25.1, "y": -11.1}]}, "mark": {"type": "text", "fontSize": 60, "color": "#ff00ff"}, "encoding": {"x": {"field": "x", "type": "quantitative"}, "y": {"field": "y", "type": "quantitative"}, "text": {"field": "t"}}},
   {"data": {"values": [{"t": "(a)", "x": 54.3, "y": 10.7}]}, "mark": {"type": "text", "fontSize": 85, "color": "#000000"}, "encoding": {"x": {"field": "x", "type": "quantitative"}, "y": {"field": "y", "type": "quantitative"}, "text": {"field": "t"}}}
  ]},
  {"width": 1463, "height": 1172, "layer": [
   {"data": {"values": [{"y": 9}, {"y": -9}]}, "mark": {"type": "rule", "color": "#f5a3a3", "strokeWidth": 3, "strokeDash": [22, 14]}, "encoding": {"x": {"datum": 0}, "x2": {"datum": 50}, "y": {"field": "y", "type": "quantitative"}}},
   {"data": {"values": [{"y": 6}, {"y": -6}]}, "mark": {"type": "rule", "color": "#dcbff2", "strokeWidth": 3, "strokeDash": [22, 14]}, "encoding": {"x": {"datum": 0}, "x2": {"datum": 50}, "y": {"field": "y", "type": "quantitative"}}},
   {"data": {"values": [{"y": 2}, {"y": -2}]}, "mark": {"type": "rule", "color": "#a3dbbd", "strokeWidth": 3, "strokeDash": [22, 14]}, "encoding": {"x": {"datum": 0}, "x2": {"datum": 50}, "y": {"field": "y", "type": "quantitative"}}},
   {"data": {"values": [{"x": 19}, {"x": 44}]}, "mark": {"type": "rule", "color": "#ff00ff", "strokeWidth": 4, "strokeDash": [20, 12]}, "encoding": {"x": {"field": "x", "type": "quantitative"}}},
   {"data": {"name": "B"}, "transform": [{"fold": ["0m", "279m", "334m", "517m", "612m", "759m", "922m", "1200m"], "as": ["s", "y"]}],
    "encoding": {
     "x": {"field": "x", "type": "quantitative", "scale": {"domain": [0, 60], "nice": false}, "axis": {"title": "Strike monitoring points", "values": [0,5,10,15,20,25,30,35,40,45,50,55,60], "labelExpr": "datum.value % 10 === 0 ? datum.label : ''"}},
     "y": {"field": "y", "type": "quantitative", "scale": {"domain": [-12, 12], "nice": false}, "axis": {"title": "Horizontal deformation (mm/m)", "titlePadding": -12, "values": [-12,-10,-8,-6,-4,-2,0,2,4,6,8,10,12], "labelExpr": "datum.value % 4 === 0 ? toString(datum.value) : ''"}},
     "color": {"field": "s", "type": "nominal", "scale": {"domain": ["0m","104m","279m","334m","363m","425m","517m","612m","681m","708m","759m","922m","1200m"], "range": ["#4d4d4d","#f03c3c","#1f5fd6","#2a9d5c","#b06ee6","#d4a11e","#1fcfd0","#7d3b3b","#8a8a18","#f5651a","#6a9edb","#7bc422","#5a5a5a"]}, "legend": {"legendX": 1233, "legendY": 358, "labelOffset": 52}}
    },
    "layer": [
     {"mark": {"type": "line", "strokeWidth": 4}},
     {"mark": {"type": "point"}}
    ]},
   {"data": {"values": [{"t": "9.0", "x": 3.5, "y": 9.6}, {"t": "6.0", "x": 3.5, "y": 6.6}, {"t": "-6.0", "x": 3.1, "y": -6.8}, {"t": "-9.0", "x": 3.1, "y": -9.8}]}, "mark": {"type": "text", "fontSize": 52, "color": "#ff1a1a"}, "encoding": {"x": {"field": "x", "type": "quantitative"}, "y": {"field": "y", "type": "quantitative"}, "text": {"field": "t"}}},
   {"data": {"values": [{"t": "2.0", "x": 3.5, "y": 1.5}, {"t": "-2.0", "x": 3.2, "y": -1.5}, {"t": "I", "x": 46.4, "y": 10.4}, {"t": "II", "x": 46.4, "y": 7.5}, {"t": "III", "x": 46.4, "y": 3.9}, {"t": "IV", "x": 46.6, "y": -0.9}, {"t": "III", "x": 46.4, "y": -4.2}, {"t": "II", "x": 46.4, "y": -7.7}, {"t": "I", "x": 46.4, "y": -10.8}]}, "mark": {"type": "text", "fontSize": 53, "color": "#000000"}, "encoding": {"x": {"field": "x", "type": "quantitative"}, "y": {"field": "y", "type": "quantitative"}, "text": {"field": "t"}}},
   {"data": {"values": [{"t": "Setup entry", "x": 12.8, "y": -11.1}, {"t": "Intersection with", "x": 34.9, "y": -9.6}, {"t": "the dip line", "x": 35.3, "y": -11.1}]}, "mark": {"type": "text", "fontSize": 60, "color": "#000000"}, "encoding": {"x": {"field": "x", "type": "quantitative"}, "y": {"field": "y", "type": "quantitative"}, "text": {"field": "t"}}},
   {"data": {"values": [{"t": "(b)", "x": 56.3, "y": 10.7}]}, "mark": {"type": "text", "fontSize": 85, "color": "#000000"}, "encoding": {"x": {"field": "x", "type": "quantitative"}, "y": {"field": "y", "type": "quantitative"}, "text": {"field": "t"}}}
  ]},
  {"width": 1470, "height": 1160, "layer": [
   {"data": {"values": [{}]}, "mark": {"type": "rect", "color": "#e1e1db"}, "encoding": {"x": {"datum": 30}, "x2": {"datum": 32.5}}},
   {"data": {"values": [{"y": 6}, {"y": -6}]}, "mark": {"type": "rule", "color": "#f5a3a3", "strokeWidth": 3, "strokeDash": [22, 14]}, "encoding": {"x": {"datum": 0}, "x2": {"datum": 50}, "y": {"field": "y", "type": "quantitative"}}},
   {"data": {"values": [{"y": 3}, {"y": -3.5}]}, "mark": {"type": "rule", "color": "#a3dbbd", "strokeWidth": 3, "strokeDash": [22, 14]}, "encoding": {"x": {"datum": 0}, "x2": {"datum": 50}, "y": {"field": "y", "type": "quantitative"}}},
   {"data": {"values": [{"x": 18}, {"x": 32.5}]}, "mark": {"type": "rule", "color": "#ff00ff", "strokeWidth": 4, "strokeDash": [20, 12]}, "encoding": {"x": {"field": "x", "type": "quantitative"}}},
   {"data": {"values": [{"x": 30}]}, "mark": {"type": "rule", "color": "#1e1eff", "strokeWidth": 4, "strokeDash": [20, 12]}, "encoding": {"x": {"field": "x", "type": "quantitative"}}},
   {"data": {"name": "C"}, "transform": [{"fold": ["0m","351m","517m","527m","545m","567m","612m","632m","681m","708m","759m","922m","1200m"], "as": ["s", "y"]}],
    "encoding": {
     "x": {"field": "x", "type": "quantitative", "scale": {"domain": [0, 60], "nice": false}, "axis": {"title": "Dip monitoring point", "values": [0,5,10,15,20,25,30,35,40,45,50,55,60], "labelExpr": "datum.value % 10 === 0 ? datum.label : ''"}},
     "y": {"field": "y", "type": "quantitative", "scale": {"domain": [-15, 15], "nice": false}, "axis": {"title": "Tilt (mm/m)", "titlePadding": 0, "values": [-15,-12.5,-10,-7.5,-5,-2.5,0,2.5,5,7.5,10,12.5,15], "labelExpr": "datum.value % 5 === 0 ? toString(datum.value) : ''"}},
     "color": {"field": "s", "type": "nominal", "scale": {"domain": ["0m","351m","517m","527m","545m","567m","612m","632m","681m","708m","759m","922m","1200m"], "range": ["#4d4d4d","#f03c3c","#1f5fd6","#2a9d5c","#b06ee6","#d4a11e","#1fcfd0","#7d3b3b","#8a8a18","#f5651a","#6a9edb","#7bc422","#5a5a5a"]}, "legend": {"legendX": 1243, "legendY": 352, "labelOffset": 52}}
    },
    "layer": [
     {"mark": {"type": "line", "strokeWidth": 4}},
     {"mark": {"type": "point"}}
    ]},
   {"data": {"values": [{"t": "6.0", "x": 3.5, "y": 6.95}, {"t": "-6.0", "x": 3.3, "y": -6.95}]}, "mark": {"type": "text", "fontSize": 52, "color": "#ff1a1a"}, "encoding": {"x": {"field": "x", "type": "quantitative"}, "y": {"field": "y", "type": "quantitative"}, "text": {"field": "t"}}},
   {"data": {"values": [{"t": "3.0", "x": 3.5, "y": 2.0}, {"t": "-3.0", "x": 3.3, "y": -2.7}, {"t": "II", "x": 46, "y": 10.4}, {"t": "III", "x": 46, "y": 4.3}, {"t": "IV", "x": 46, "y": -0.9}, {"t": "III", "x": 46, "y": -4.7}, {"t": "II", "x": 46, "y": -10.4}]}, "mark": {"type": "text", "fontSize": 53, "color": "#000000"}, "encoding": {"x": {"field": "x", "type": "quantitative"}, "y": {"field": "y", "type": "quantitative"}, "text": {"field": "t"}}},
   {"data": {"values": [{"t": "Working face width", "x": 25.1, "y": -13.8}]}, "mark": {"type": "text", "fontSize": 60, "color": "#ff00ff"}, "encoding": {"x": {"field": "x", "type": "quantitative"}, "y": {"field": "y", "type": "quantitative"}, "text": {"field": "t"}}},
   {"data": {"values": [{"t": "(c)", "x": 54.4, "y": 13.6}]}, "mark": {"type": "text", "fontSize": 85, "color": "#000000"}, "encoding": {"x": {"field": "x", "type": "quantitative"}, "y": {"field": "y", "type": "quantitative"}, "text": {"field": "t"}}}
  ]},
  {"width": 1463, "height": 1160, "layer": [
   {"data": {"values": [{"y": 6}, {"y": -6}]}, "mark": {"type": "rule", "color": "#f5a3a3", "strokeWidth": 3, "strokeDash": [22, 14]}, "encoding": {"x": {"datum": 0}, "x2": {"datum": 50}, "y": {"field": "y", "type": "quantitative"}}},
   {"data": {"values": [{"y": 3}, {"y": -3}]}, "mark": {"type": "rule", "color": "#a3dbbd", "strokeWidth": 3, "strokeDash": [22, 14]}, "encoding": {"x": {"datum": 0}, "x2": {"datum": 50}, "y": {"field": "y", "type": "quantitative"}}},
   {"data": {"values": [{"x": 19}, {"x": 44}]}, "mark": {"type": "rule", "color": "#ff00ff", "strokeWidth": 4, "strokeDash": [20, 12]}, "encoding": {"x": {"field": "x", "type": "quantitative"}}},
   {"data": {"name": "D"}, "transform": [{"fold": ["0m","104m","279m","334m","363m","425m","517m","612m","681m","708m","759m","922m","1200m"], "as": ["s", "y"]}],
    "encoding": {
     "x": {"field": "x", "type": "quantitative", "scale": {"domain": [0, 60], "nice": false}, "axis": {"title": "Strike monitoring points", "values": [0,5,10,15,20,25,30,35,40,45,50,55,60], "labelExpr": "datum.value % 10 === 0 ? datum.label : ''"}},
     "y": {"field": "y", "type": "quantitative", "scale": {"domain": [-20, 15], "nice": false}, "axis": {"title": "Tilt (mm/m)", "titlePadding": 0, "values": [-20,-17.5,-15,-12.5,-10,-7.5,-5,-2.5,0,2.5,5,7.5,10,12.5,15], "labelExpr": "datum.value % 5 === 0 ? toString(datum.value) : ''"}},
     "color": {"field": "s", "type": "nominal", "scale": {"domain": ["0m","104m","279m","334m","363m","425m","517m","612m","681m","708m","759m","922m","1200m"], "range": ["#4d4d4d","#f03c3c","#1f5fd6","#2a9d5c","#b06ee6","#d4a11e","#1fcfd0","#7d3b3b","#8a8a18","#f5651a","#6a9edb","#7bc422","#5a5a5a"]}, "legend": {"legendX": 1241, "legendY": 355, "labelOffset": 50}}
    },
    "layer": [
     {"mark": {"type": "line", "strokeWidth": 4}},
     {"mark": {"type": "point"}}
    ]},
   {"data": {"values": [{"t": "6.0", "x": 3.05, "y": 6.97}, {"t": "-6.0", "x": 2.85, "y": -7.4}]}, "mark": {"type": "text", "fontSize": 52, "color": "#ff1a1a"}, "encoding": {"x": {"field": "x", "type": "quantitative"}, "y": {"field": "y", "type": "quantitative"}, "text": {"field": "t"}}},
   {"data": {"values": [{"t": "3.0", "x": 3.05, "y": 1.8}, {"t": "-3.0", "x": 2.85, "y": -2.5}, {"t": "II", "x": 46.7, "y": 9.9}, {"t": "III", "x": 46.7, "y": 4.3}, {"t": "IV", "x": 46.7, "y": -0.9}, {"t": "III", "x": 46.7, "y": -4.8}, {"t": "II", "x": 46.7, "y": -12.3}]}, "mark": {"type": "text", "fontSize": 53, "color": "#000000"}, "encoding": {"x": {"field": "x", "type": "quantitative"}, "y": {"field": "y", "type": "quantitative"}, "text": {"field": "t"}}},
   {"data": {"values": [{"t": "Setup entry", "x": 12.65, "y": -18.7}, {"t": "Intersection with", "x": 34.7, "y": -16.5}, {"t": "the dip line", "x": 35.1, "y": -18.7}]}, "mark": {"type": "text", "fontSize": 60, "color": "#000000"}, "encoding": {"x": {"field": "x", "type": "quantitative"}, "y": {"field": "y", "type": "quantitative"}, "text": {"field": "t"}}},
   {"data": {"values": [{"t": "(d)", "x": 56.3, "y": 13.4}]}, "mark": {"type": "text", "fontSize": 85, "color": "#000000"}, "encoding": {"x": {"field": "x", "type": "quantitative"}, "y": {"field": "y", "type": "quantitative"}, "text": {"field": "t"}}}
  ]},
  {"width": 1470, "height": 1152, "layer": [
   {"data": {"values": [{}]}, "mark": {"type": "rect", "color": "#e1e1db"}, "encoding": {"x": {"datum": 30}, "x2": {"datum": 32.5}}},
   {"data": {"values": [{"y": 1.0}]}, "mark": {"type": "rule", "color": "#f5a3a3", "strokeWidth": 3, "strokeDash": [22, 14]}, "encoding": {"x": {"datum": 0}, "x2": {"datum": 50}, "y": {"field": "y", "type": "quantitative"}}},
   {"data": {"values": [{"y": 0.4}]}, "mark": {"type": "rule", "color": "#dcbff2", "strokeWidth": 3, "strokeDash": [22, 14]}, "encoding": {"x": {"datum": 0}, "x2": {"datum": 50}, "y": {"field": "y", "type": "quantitative"}}},
   {"data": {"values": [{"y": 0.25}, {"y": -0.25}]}, "mark": {"type": "rule", "color": "#a3dbbd", "strokeWidth": 3, "strokeDash": [22, 14]}, "encoding": {"x": {"datum": 0}, "x2": {"datum": 50}, "y": {"field": "y", "type": "quantitative"}}},
   {"data": {"values": [{"x": 18}, {"x": 32.5}]}, "mark": {"type": "rule", "color": "#ff00ff", "strokeWidth": 4, "strokeDash": [20, 12]}, "encoding": {"x": {"field": "x", "type": "quantitative"}}},
   {"data": {"values": [{"x": 30}]}, "mark": {"type": "rule", "color": "#1e1eff", "strokeWidth": 4, "strokeDash": [20, 12]}, "encoding": {"x": {"field": "x", "type": "quantitative"}}},
   {"data": {"name": "E"}, "transform": [{"fold": ["0m","351m","517m","527m","545m","567m","612m","632m","681m","708m","759m","922m","1200m"], "as": ["s", "y"]}],
    "encoding": {
     "x": {"field": "x", "type": "quantitative", "scale": {"domain": [0, 60], "nice": false}, "axis": {"title": "Dip monitoring point", "values": [0,5,10,15,20,25,30,35,40,45,50,55,60], "labelExpr": "datum.value % 10 === 0 ? datum.label : ''"}},
     "y": {"field": "y", "type": "quantitative", "scale": {"domain": [-0.5, 1.5], "nice": false}, "axis": {"title": "Curvature (10⁻³·m⁻¹)", "titlePadding": -10, "values": [-0.45,-0.3,-0.15,0,0.15,0.3,0.45,0.6,0.75,0.9,1.05,1.2,1.35,1.5], "labelExpr": "round(datum.value / 0.15) % 2 === 0 ? replace(format(datum.value, '.1f'), '\u2212', '-') : ''"}},
     "color": {"field": "s", "type": "nominal", "scale": {"domain": ["0m","351m","517m","527m","545m","567m","612m","632m","681m","708m","759m","922m","1200m"], "range": ["#4d4d4d","#f03c3c","#1f5fd6","#2a9d5c","#b06ee6","#d4a11e","#1fcfd0","#7d3b3b","#8a8a18","#f5651a","#6a9edb","#7bc422","#5a5a5a"]}, "legend": {"legendX": 1246, "legendY": 350, "labelOffset": 55}}
    },
    "layer": [
     {"mark": {"type": "line", "strokeWidth": 4}},
     {"mark": {"type": "point"}}
    ]},
   {"data": {"values": [{"t": "1.0", "x": 4.05, "y": 1.056}, {"t": "0.40", "x": 4.5, "y": 0.457}]}, "mark": {"type": "text", "fontSize": 52, "color": "#ff1a1a"}, "encoding": {"x": {"field": "x", "type": "quantitative"}, "y": {"field": "y", "type": "quantitative"}, "text": {"field": "t"}}},
   {"data": {"values": [{"t": "0.25", "x": 4.5, "y": 0.182}, {"t": "-0.25", "x": 4.2, "y": -0.21}, {"t": "I", "x": 46.2, "y": 1.23}, {"t": "II", "x": 46.5, "y": 0.685}, {"t": "III", "x": 46.8, "y": 0.31}, {"t": "IV", "x": 46.8, "y": -0.083}]}, "mark": {"type": "text", "fontSize": 53, "color": "#000000"}, "encoding": {"x": {"field": "x", "type": "quantitative"}, "y": {"field": "y", "type": "quantitative"}, "text": {"field": "t"}}},
   {"data": {"values": [{"t": "Working face width", "x": 25.2, "y": -0.427}]}, "mark": {"type": "text", "fontSize": 60, "color": "#ff00ff"}, "encoding": {"x": {"field": "x", "type": "quantitative"}, "y": {"field": "y", "type": "quantitative"}, "text": {"field": "t"}}},
   {"data": {"values": [{"t": "(e)", "x": 54.2, "y": 1.4}]}, "mark": {"type": "text", "fontSize": 85, "color": "#000000"}, "encoding": {"x": {"field": "x", "type": "quantitative"}, "y": {"field": "y", "type": "quantitative"}, "text": {"field": "t"}}}
  ]},
  {"width": 1463, "height": 1152, "layer": [
   {"data": {"values": [{"y": -1.0}]}, "mark": {"type": "rule", "color": "#f5a3a3", "strokeWidth": 3, "strokeDash": [22, 14]}, "encoding": {"x": {"datum": 0}, "x2": {"datum": 50}, "y": {"field": "y", "type": "quantitative"}}},
   {"data": {"values": [{"y": -0.4}]}, "mark": {"type": "rule", "color": "#dcbff2", "strokeWidth": 3, "strokeDash": [22, 14]}, "encoding": {"x": {"datum": 0}, "x2": {"datum": 50}, "y": {"field": "y", "type": "quantitative"}}},
   {"data": {"values": [{"y": 0.25}, {"y": -0.25}]}, "mark": {"type": "rule", "color": "#a3dbbd", "strokeWidth": 3, "strokeDash": [22, 14]}, "encoding": {"x": {"datum": 0}, "x2": {"datum": 50}, "y": {"field": "y", "type": "quantitative"}}},
   {"data": {"values": [{"x": 19}, {"x": 44}]}, "mark": {"type": "rule", "color": "#ff00ff", "strokeWidth": 4, "strokeDash": [20, 12]}, "encoding": {"x": {"field": "x", "type": "quantitative"}}},
   {"data": {"name": "F"}, "transform": [{"fold": ["0m","104m","279m","334m","363m","425m","517m","612m","681m","708m","759m","922m","1200m"], "as": ["s", "y"]}],
    "encoding": {
     "x": {"field": "x", "type": "quantitative", "scale": {"domain": [0, 60], "nice": false}, "axis": {"title": "Strike monitoring points", "values": [0,5,10,15,20,25,30,35,40,45,50,55,60], "labelExpr": "datum.value % 10 === 0 ? datum.label : ''"}},
     "y": {"field": "y", "type": "quantitative", "scale": {"domain": [-1.2, 0.6], "nice": false}, "axis": {"title": "Curvature (10⁻³·m⁻¹)", "titlePadding": 5, "values": [-1.2,-1.05,-0.9,-0.75,-0.6,-0.45,-0.3,-0.15,0,0.15,0.3,0.45,0.6], "labelExpr": "round(datum.value / 0.15) % 2 === 0 ? replace(format(datum.value, '.1f'), '\u2212', '-') : ''"}},
     "color": {"field": "s", "type": "nominal", "scale": {"domain": ["0m","104m","279m","334m","363m","425m","517m","612m","681m","708m","759m","922m","1200m"], "range": ["#4d4d4d","#f03c3c","#1f5fd6","#2a9d5c","#b06ee6","#d4a11e","#1fcfd0","#7d3b3b","#8a8a18","#f5651a","#6a9edb","#7bc422","#5a5a5a"]}, "legend": {"legendX": 1247, "legendY": 350, "labelOffset": 44}}
    },
    "layer": [
     {"mark": {"type": "line", "strokeWidth": 4}},
     {"mark": {"type": "point"}}
    ]},
   {"data": {"values": [{"t": "-0.4", "x": 3.2, "y": -0.459}, {"t": "-1.0", "x": 3.2, "y": -0.953}]}, "mark": {"type": "text", "fontSize": 52, "color": "#ff1a1a"}, "encoding": {"x": {"field": "x", "type": "quantitative"}, "y": {"field": "y", "type": "quantitative"}, "text": {"field": "t"}}},
   {"data": {"values": [{"t": "0.25", "x": 3.9, "y": 0.209}, {"t": "-0.25", "x": 3.7, "y": -0.203}, {"t": "III", "x": 46.4, "y": 0.41}, {"t": "IV", "x": 46.4, "y": 0.069}, {"t": "III", "x": 46.4, "y": -0.314}, {"t": "II", "x": 46.1, "y": -0.718}, {"t": "I", "x": 45.8, "y": -1.118}]}, "mark": {"type": "text", "fontSize": 53, "color": "#000000"}, "encoding": {"x": {"field": "x", "type": "quantitative"}, "y": {"field": "y", "type": "quantitative"}, "text": {"field": "t"}}},
   {"data": {"values": [{"t": "Setup entry", "x": 12.9, "y": -1.142}, {"t": "Intersection with", "x": 35.3, "y": -1.023}, {"t": "the dip line", "x": 35.3, "y": -1.142}]}, "mark": {"type": "text", "fontSize": 60, "color": "#000000"}, "encoding": {"x": {"field": "x", "type": "quantitative"}, "y": {"field": "y", "type": "quantitative"}, "text": {"field": "t"}}},
   {"data": {"values": [{"t": "(f)", "x": 56.2, "y": 0.51}]}, "mark": {"type": "text", "fontSize": 85, "color": "#000000"}, "encoding": {"x": {"field": "x", "type": "quantitative"}, "y": {"field": "y", "type": "quantitative"}, "text": {"field": "t"}}}
  ]}
]
}
